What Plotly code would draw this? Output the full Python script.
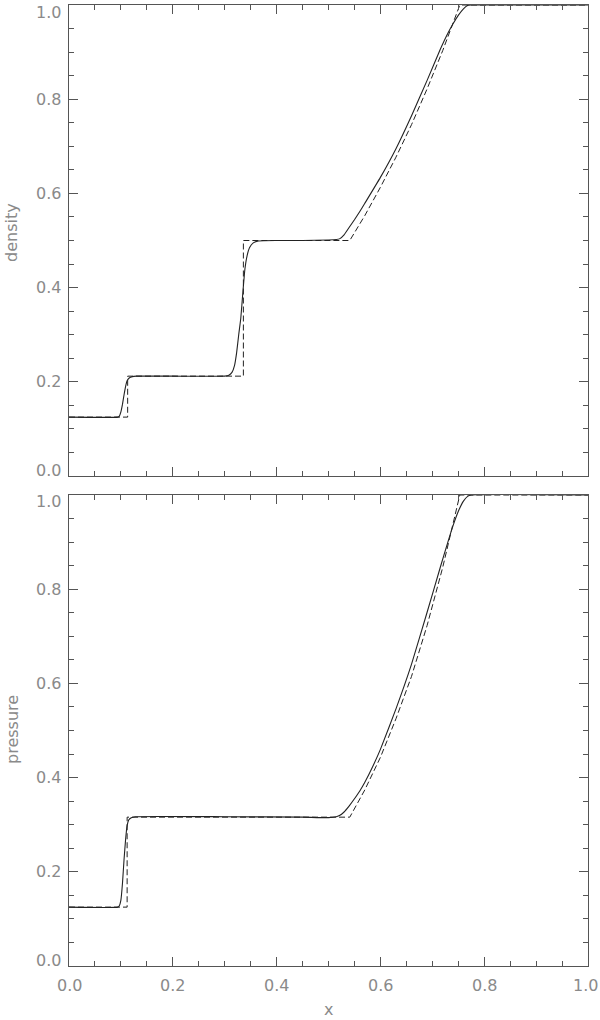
import plotly.graph_objects as go

# ---------------- data ----------------
# density, numerical (solid)
x_rho_num = [0.0, 0.094, 0.097, 0.100, 0.103, 0.106, 0.109, 0.112, 0.116, 0.122, 0.130,
             0.200, 0.300, 0.308, 0.314, 0.319, 0.323, 0.327, 0.331, 0.335, 0.339, 0.343,
             0.348, 0.355, 0.365, 0.400, 0.450, 0.500, 0.515, 0.522, 0.530, 0.540, 0.550,
             0.560, 0.570, 0.600, 0.630, 0.660, 0.690, 0.715, 0.730, 0.740, 0.750, 0.760,
             0.768, 0.775, 0.800, 1.0]
rho_num = [0.125, 0.125, 0.127, 0.136, 0.152, 0.172, 0.190, 0.202, 0.208, 0.211, 0.212,
           0.212, 0.212, 0.214, 0.220, 0.235, 0.262, 0.300, 0.335, 0.390, 0.440, 0.467,
           0.485, 0.495, 0.499, 0.500, 0.500, 0.501, 0.502, 0.504, 0.512, 0.528, 0.544,
           0.561, 0.579, 0.634, 0.695, 0.765, 0.840, 0.905, 0.940, 0.960, 0.978, 0.992,
           0.999, 1.0, 1.0, 1.0]
# density, exact (dashed)
x_rho_exact = [0.0, 0.113, 0.113, 0.336, 0.336, 0.541, 0.570, 0.600, 0.630, 0.660, 0.690,
               0.720, 0.753, 1.0]
rho_exact = [0.125, 0.125, 0.212, 0.212, 0.500, 0.500, 0.553, 0.613, 0.677, 0.746, 0.822,
             0.903, 1.0, 1.0]

# pressure, numerical (solid)
x_p_num = [0.0, 0.094, 0.097, 0.100, 0.103, 0.106, 0.109, 0.112, 0.115, 0.120, 0.128,
           0.300, 0.450, 0.500, 0.515, 0.522, 0.530, 0.540, 0.550, 0.560, 0.570, 0.585,
           0.600, 0.630, 0.660, 0.690, 0.715, 0.730, 0.740, 0.750, 0.760, 0.768, 0.775, 1.0]
p_num = [0.125, 0.125, 0.128, 0.140, 0.175, 0.225, 0.268, 0.298, 0.310, 0.315, 0.317,
         0.317, 0.316, 0.315, 0.317, 0.320, 0.327, 0.340, 0.355, 0.371, 0.390, 0.423,
         0.460, 0.546, 0.641, 0.751, 0.845, 0.900, 0.935, 0.965, 0.987, 0.997, 1.0, 1.0]
# pressure, exact (dashed)
x_p_exact = [0.0, 0.112, 0.112, 0.541, 0.570, 0.600, 0.630, 0.660, 0.690, 0.720, 0.753, 1.0]
p_exact = [0.125, 0.125, 0.316, 0.316, 0.374, 0.443, 0.525, 0.615, 0.723, 0.846, 1.0, 1.0]

tick_vals = [0.0, 0.2, 0.4, 0.6, 0.8, 1.0]
tick_text = ["0.0", "0.2", "0.4", "0.6", "0.8", "1.0"]

# ---------------- figure ----------------
LINE = "#222222"
AXC = "#555555"
TXT = "#8a8a8a"
FONT = "DejaVu Sans"
FS = 16

fig = go.Figure()
fig.add_trace(go.Scatter(x=x_rho_num, y=rho_num, mode="lines",
                         line=dict(color=LINE, width=1.1, shape="spline", smoothing=0.4),
                         xaxis="x", yaxis="y"))
fig.add_trace(go.Scatter(x=x_rho_exact, y=rho_exact, mode="lines",
                         line=dict(color=LINE, width=1, dash="6px,3px"), xaxis="x", yaxis="y"))
fig.add_trace(go.Scatter(x=x_p_num, y=p_num, mode="lines",
                         line=dict(color=LINE, width=1.1, shape="spline", smoothing=0.4),
                         xaxis="x2", yaxis="y2"))
fig.add_trace(go.Scatter(x=x_p_exact, y=p_exact, mode="lines",
                         line=dict(color=LINE, width=1, dash="6px,3px"), xaxis="x2", yaxis="y2"))

def axis(domain=None, anchor=None):
    d = dict(range=[0, 1], showgrid=False, zeroline=False, showline=True,
             linecolor=AXC, linewidth=1, mirror="allticks", ticks="inside",
             ticklen=9, tickwidth=1, tickcolor=AXC, automargin=False,
             tickvals=tick_vals, showticklabels=False,
             minor=dict(ticks="inside", ticklen=5, tickwidth=1, tickcolor=AXC, dtick=0.05,
                        showgrid=False))
    if domain is not None:
        d["domain"] = domain
    if anchor is not None:
        d["anchor"] = anchor
    return d

W, H = 600, 1020
PL, PR = 69, 588         # plot area left / right in pixels
PT, PB = 5, 966          # plot area top / bottom in pixels
ph = PB - PT
pw = PR - PL
top_dom = [(PB - 476) / ph, 1.0]
bot_dom = [0.0, (PB - 495) / ph]

def py(pix):
    return (PB - pix) / ph

def px(pix):
    return (pix - PL) / pw

tfont = dict(family=FONT, size=FS, color=TXT)
ann = []
# y tick labels (ends nudged inward as in the reference)
for yref in ("y", "y2"):
    for v, t in zip(tick_vals, tick_text):
        shift = -7 if v == 1.0 else (6 if v == 0.0 else 0)
        ann.append(dict(text=t, x=0, xref="paper", xanchor="right", xshift=-6,
                        y=v, yref=yref, yanchor="middle", yshift=shift, showarrow=False,
                        font=tfont))
# x tick labels (bottom panel only)
for v, t in zip(tick_vals, tick_text):
    ann.append(dict(text=t, x=v, xref="x2", xanchor="center", xshift=(-3 if v == 1.0 else 0),
                    y=py(985), yref="paper", yanchor="middle", showarrow=False, font=tfont))

ann += [
    dict(text="density", x=px(12), xref="paper", y=py(233), yref="paper", textangle=-90,
         showarrow=False, xanchor="center", yanchor="middle", font=tfont),
    dict(text="pressure", x=px(12), xref="paper", y=py(730), yref="paper", textangle=-90,
         showarrow=False, xanchor="center", yanchor="middle", font=tfont),
    dict(text="x", x=0.5, xref="paper", y=py(1009), yref="paper", showarrow=False,
         xanchor="center", yanchor="middle", font=tfont),
]

fig.update_layout(
    width=W, height=H,
    margin=dict(l=PL, r=W - PR, t=PT, b=H - PB, autoexpand=False),
    paper_bgcolor="white", plot_bgcolor="white",
    showlegend=False,
    xaxis=axis(anchor="y"),
    yaxis=axis(domain=top_dom, anchor="x"),
    xaxis2=axis(anchor="y2"),
    yaxis2=axis(domain=bot_dom, anchor="x2"),
    annotations=ann,
)

fig.write_html("out.html", config={"displayModeBar": False})

# remove the browser's default page margin so the figure sits at the window's corner
with open("out.html", "r", encoding="utf-8") as f:
    html = f.read()
html = html.replace("<head>", "<head><style>html,body{margin:0;padding:0;overflow:hidden;}</style>", 1)
with open("out.html", "w", encoding="utf-8") as f:
    f.write(html)
